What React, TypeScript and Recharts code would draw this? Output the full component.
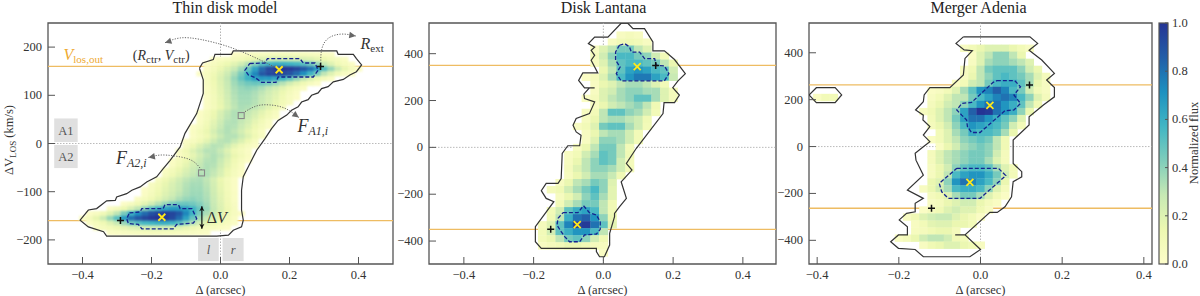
import { Label, ReferenceArea, ReferenceLine, Scatter, ScatterChart, XAxis, YAxis } from "recharts";

const FONT = '"Liberation Serif", serif';
const TEXT = "#333";
const FRAME = "#555";
const ORANGE = "#eebc62";
const DOTS = "#aaa";

const fluxStops: [number, string][] = [
  [0, "#fdfdc9"],
  [0.143, "#edf8b1"],
  [0.286, "#c7e9b4"],
  [0.429, "#7fcdbb"],
  [0.571, "#41b6c4"],
  [0.714, "#1d91c0"],
  [0.857, "#225ea8"],
  [1, "#253494"],
];

const xTicks = [-0.4, -0.2, 0, 0.2, 0.4];
const modelYTicks = [-200, -100, 0, 100, 200];
const wideYTicks = [-400, -200, 0, 200, 400];
const colorbarTicks = [0, 0.2, 0.4, 0.6, 0.8, 1];

// each row: velocity, first column index, then flux in percent
const modelRows = [
  [185, 2, 3, 4, 5, 6, 6, 7, 7, 8, 8, 7, 7, 6, 5, 4, 3],
  [175, -1, 2, 4, 6, 8, 10, 13, 16, 20, 22, 24, 25, 24, 23, 22, 20, 17, 14, 10, 7, 4],
  [165, -2, 3, 6, 10, 14, 19, 25, 32, 42, 52, 58, 60, 60, 58, 56, 52, 46, 38, 28, 20, 12, 7, 3],
  [155, -2, 4, 9, 15, 21, 28, 36, 48, 65, 82, 93, 98, 100, 98, 94, 88, 80, 68, 52, 38, 26, 16, 8, 3],
  [145, -3, 2, 6, 12, 19, 26, 34, 44, 58, 74, 88, 94, 96, 94, 90, 82, 72, 58, 44, 30, 20, 11, 5, 2],
  [135, -2, 6, 13, 21, 29, 38, 48, 58, 66, 68, 68, 64, 58, 50, 40, 30, 22, 14, 8, 3],
  [125, -2, 5, 12, 20, 28, 36, 42, 46, 48, 47, 44, 38, 32, 25, 18, 12, 6, 2],
  [115, -2, 4, 11, 19, 27, 34, 38, 40, 38, 34, 29, 24, 18, 12, 7, 3],
  [105, -2, 4, 10, 18, 26, 33, 37, 37, 34, 30, 25, 20, 14, 8, 3],
  [95, -2, 3, 9, 17, 25, 32, 36, 36, 33, 28, 23, 18, 12, 6, 2],
  [85, -2, 3, 9, 16, 24, 31, 35, 35, 32, 27, 22, 16, 10, 5],
  [75, -2, 3, 8, 15, 23, 30, 34, 33, 30, 25, 19, 13, 6],
  [65, -3, 2, 7, 14, 22, 29, 33, 33, 29, 24, 18, 12, 6],
  [55, -3, 3, 8, 15, 23, 30, 33, 31, 27, 21, 15, 9, 4],
  [45, -3, 4, 10, 18, 26, 32, 33, 29, 24, 17, 10, 4],
  [35, -4, 2, 6, 12, 20, 28, 33, 32, 27, 21, 14, 8, 3],
  [25, -4, 4, 9, 15, 23, 30, 33, 30, 24, 17, 10, 4],
  [15, -4, 3, 7, 12, 20, 28, 32, 32, 27, 20, 12, 5],
  [5, -5, 3, 6, 11, 18, 26, 31, 32, 28, 21, 13, 6],
  [-5, -5, 6, 13, 21, 28, 32, 31, 26, 18, 11, 6, 3],
  [-15, -6, 5, 12, 20, 27, 32, 32, 28, 20, 12, 7, 3],
  [-25, -6, 4, 10, 17, 24, 30, 33, 30, 23, 15, 9, 4],
  [-35, -7, 3, 8, 14, 21, 27, 32, 33, 28, 20, 12, 6, 2],
  [-45, -7, 4, 10, 17, 24, 29, 33, 32, 26, 18, 10, 4],
  [-55, -8, 4, 9, 15, 21, 27, 31, 33, 30, 23, 15, 8, 3],
  [-65, -8, 6, 12, 18, 24, 29, 33, 33, 29, 22, 14, 7, 2],
  [-75, -9, 6, 13, 19, 25, 30, 33, 34, 30, 23, 15, 8, 3],
  [-85, -10, 5, 10, 16, 22, 27, 32, 35, 35, 31, 24, 16, 9, 3],
  [-95, -11, 2, 6, 12, 18, 23, 28, 33, 36, 36, 32, 25, 17, 9, 3],
  [-105, -11, 3, 8, 14, 20, 25, 30, 34, 37, 37, 33, 26, 18, 10, 4],
  [-115, -12, 3, 7, 12, 18, 24, 29, 34, 38, 40, 38, 34, 27, 19, 11, 4],
  [-125, -14, 2, 6, 12, 18, 25, 32, 38, 44, 47, 48, 46, 42, 36, 28, 20, 12, 5],
  [-135, -16, 3, 8, 14, 22, 30, 40, 50, 58, 64, 68, 68, 66, 58, 48, 38, 29, 21, 13, 6],
  [-145, -19, 2, 5, 11, 20, 30, 44, 58, 72, 82, 90, 94, 96, 94, 88, 74, 58, 44, 34, 26, 19, 12, 6, 2],
  [-155, -20, 3, 8, 16, 26, 38, 52, 68, 80, 88, 94, 98, 100, 98, 93, 82, 65, 48, 36, 28, 21, 15, 9, 4],
  [-165, -19, 3, 7, 12, 20, 28, 38, 46, 52, 56, 58, 60, 60, 58, 52, 42, 32, 25, 19, 14, 10, 6, 3],
  [-175, -18, 4, 7, 10, 14, 17, 20, 22, 23, 24, 25, 24, 22, 20, 16, 13, 10, 8, 6, 4, 2],
  [-185, -16, 3, 4, 5, 6, 7, 7, 8, 8, 7, 7, 6, 6, 5, 4, 3],
];

const lantanaRows = [
  [480, 2, 5, 8, 5],
  [450, 1, 5, 10, 12, 10, 5],
  [420, -1, 5, 20, 30, 45, 45, 30, 20],
  [390, -1, 8, 25, 40, 55, 55, 45, 40, 25, 10],
  [360, -1, 6, 20, 35, 50, 55, 55, 50, 45, 30, 15],
  [330, 0, 15, 30, 50, 65, 70, 65, 55, 50, 25],
  [300, -2, 3, 8, 20, 35, 55, 70, 78, 78, 65, 55, 28],
  [270, -1, 5, 15, 20, 30, 35, 35, 30, 20, 10],
  [240, -1, 5, 20, 25, 35, 40, 40, 35, 35, 20, 8],
  [210, -2, 4, 8, 20, 30, 35, 40, 50, 50, 35, 20, 8],
  [180, -1, 5, 15, 25, 30, 35, 40, 30, 12],
  [150, -2, 5, 10, 30, 50, 50, 40, 35, 25, 10],
  [120, -2, 6, 15, 30, 35, 35, 30, 25, 12],
  [90, -3, 5, 10, 20, 45, 50, 50, 35, 25, 10],
  [60, -2, 5, 15, 30, 35, 35, 25, 10],
  [30, -2, 5, 20, 40, 40, 35, 25, 10],
  [0, -3, 5, 15, 30, 45, 45, 30, 10],
  [-30, -4, 5, 10, 25, 35, 50, 45, 30, 12],
  [-60, -4, 6, 15, 30, 40, 50, 45, 25, 8],
  [-90, -4, 8, 20, 30, 40, 40, 35, 25, 10],
  [-120, -4, 6, 15, 25, 35, 35, 28, 12],
  [-150, -5, 5, 15, 30, 35, 45, 40, 20],
  [-180, -6, 8, 12, 25, 35, 45, 55, 40, 18],
  [-210, -5, 6, 15, 25, 40, 50, 35, 18],
  [-240, -5, 10, 25, 35, 45, 45, 30, 12],
  [-270, -6, 10, 25, 50, 60, 65, 55, 30, 12],
  [-300, -6, 12, 30, 60, 80, 85, 70, 40, 15],
  [-330, -7, 8, 20, 50, 75, 95, 98, 80, 50, 18],
  [-360, -7, 10, 25, 50, 60, 70, 70, 55, 30],
  [-390, -7, 10, 15, 30, 45, 50, 40, 25, 12],
  [-420, -7, 5, 8, 10, 15, 15, 12, 8, 6],
  [-450, 0, 4],
];

const adeniaRows = [
  [420, -2, 5, 10, 15, 20, 20, 20, 15, 10, 5],
  [390, -1, 3, 20, 30, 40, 40, 30, 15],
  [360, -1, 5, 20, 35, 40, 40, 35, 30, 20],
  [330, -2, 5, 12, 30, 45, 50, 50, 50, 40, 25, 15],
  [300, -2, 5, 15, 30, 40, 50, 55, 50, 45, 35, 20, 8],
  [270, -3, 4, 10, 25, 30, 45, 55, 60, 60, 50, 35, 15, 5],
  [240, -6, 3, 5, 10, 20, 35, 50, 70, 75, 85, 75, 55, 45, 25, 10, 5],
  [210, -6, 5, 10, 20, 30, 30, 45, 55, 65, 75, 80, 75, 55, 40, 20, 8],
  [210, -20, 4, 10, 10],
  [180, -6, 8, 15, 25, 30, 40, 55, 70, 80, 80, 70, 60, 50, 30, 12],
  [150, -7, 6, 12, 20, 30, 40, 65, 85, 100, 98, 80, 70, 60, 40, 15],
  [120, -6, 10, 20, 30, 45, 65, 80, 80, 70, 60, 50, 40, 20],
  [90, -6, 8, 15, 25, 40, 55, 70, 65, 60, 55, 45, 25, 10],
  [60, -5, 10, 20, 35, 45, 60, 55, 55, 50, 35, 15],
  [30, -6, 4, 10, 20, 30, 40, 45, 50, 45, 30, 12],
  [0, -5, 4, 15, 25, 35, 40, 45, 40, 30, 12],
  [-30, -6, 8, 20, 30, 35, 40, 45, 45, 40, 25, 8],
  [-60, -6, 8, 20, 30, 35, 40, 45, 45, 35, 20, 8],
  [-90, -6, 6, 15, 25, 40, 50, 55, 55, 50, 35, 20, 10],
  [-120, -6, 6, 15, 30, 55, 65, 70, 70, 60, 45, 25, 10],
  [-150, -6, 15, 20, 40, 70, 80, 75, 65, 55, 40, 15],
  [-180, -7, 5, 15, 25, 35, 55, 60, 60, 55, 40, 20, 8],
  [-210, -6, 8, 12, 20, 35, 45, 45, 35, 20, 10, 3],
  [-240, -6, 5, 8, 15, 20, 25, 25, 15, 8, 4],
  [-270, -7, 3, 8, 12, 20, 25, 20, 20, 12, 5],
  [-300, -9, 5, 12, 20, 25, 28, 28, 20, 15, 10, 3],
  [-330, -8, 5, 10, 18, 20, 20, 15, 15, 10],
  [-360, -8, 6, 8, 12, 15, 15, 8],
  [-390, -10, 4, 8, 15, 25, 30, 30, 25, 12, 10],
  [-420, -7, 5, 12, 15, 20, 20, 15, 12, 5],
];

const modelContour = [
  [-0.061, 156], [-0.052, 167], [-0.021, 174], [-0.016, 185], [0.032, 185], [0.037, 192], [0.337, 192],
  [0.341, 185], [0.385, 185], [0.394, 176], [0.409, 163], [0.394, 149], [0.375, 142], [0.356, 133],
  [0.327, 128], [0.312, 118], [0.293, 114], [0.283, 105], [0.264, 100], [0.254, 91], [0.235, 86],
  [0.225, 76], [0.206, 69], [0.192, 59], [0.167, 48], [0.148, 31], [0.129, 10], [0.105, -14], [0.085, -42],
  [0.066, -69], [0.061, -97], [0.061, -138], [0.066, -159], [0.061, -173], [0.037, -180], [0.023, -190],
  [-0.011, -192], [-0.33, -192], [-0.339, -183], [-0.383, -173], [-0.407, -159], [-0.383, -138],
  [-0.359, -135], [-0.33, -119], [-0.305, -118], [-0.301, -111], [-0.272, -104], [-0.257, -97],
  [-0.233, -90], [-0.214, -80], [-0.185, -69], [-0.166, -52], [-0.146, -35], [-0.117, -7], [-0.103, 21],
  [-0.069, 62], [-0.05, 104], [-0.05, 132], [-0.061, 156],
];
const modelCoreUpper = [
  [0.085, 166], [0.129, 167], [0.136, 176], [0.23, 176], [0.24, 167], [0.274, 167], [0.283, 152],
  [0.269, 138], [0.167, 138], [0.161, 127], [0.119, 127], [0.1, 137], [0.081, 142], [0.071, 152], [0.085, 166],
];
const modelCoreLower = [
  [-0.264, -144], [-0.233, -142], [-0.228, -135], [-0.166, -135], [-0.161, -127], [-0.122, -127],
  [-0.117, -135], [-0.083, -135], [-0.069, -156], [-0.079, -165], [-0.127, -168], [-0.137, -177],
  [-0.228, -177], [-0.238, -168], [-0.267, -166], [-0.272, -156], [-0.264, -144],
];

const lantanaContour = [
  [0.051, 530], [0.07, 530], [0.085, 507], [0.118, 507], [0.142, 450], [0.142, 412], [0.175, 412],
  [0.204, 375], [0.235, 315], [0.214, 284], [0.199, 255], [0.218, 223], [0.204, 191], [0.174, 191],
  [0.171, 144], [0.094, -5], [0.066, -69], [0.082, -97], [0.051, -147], [0.066, -218], [0.046, -254],
  [0.032, -282], [0.032, -296], [0.018, -367], [0.018, -417], [0.003, -467], [-0.011, -467], [-0.02, -445],
  [-0.02, -431], [-0.178, -431], [-0.195, -403], [-0.195, -339], [-0.142, -232], [-0.164, -218],
  [-0.178, -185], [-0.164, -154], [-0.13, -154], [-0.121, -133], [-0.118, -26], [-0.102, 7], [-0.068, 7],
  [-0.064, 52], [-0.078, 66], [-0.087, 94], [-0.078, 123], [-0.04, 144], [-0.025, 194], [-0.054, 208],
  [-0.056, 227], [-0.04, 254], [-0.025, 254], [-0.054, 254], [-0.071, 286], [-0.059, 318], [-0.016, 318],
  [-0.035, 372], [-0.025, 393], [-0.035, 414], [-0.025, 428], [-0.043, 443], [-0.025, 471], [0.013, 471],
  [0.051, 530],
];
const lantanaCoreUpper = [
  [0.046, 436], [0.061, 443], [0.075, 429], [0.08, 407], [0.104, 407], [0.118, 379], [0.147, 379],
  [0.152, 350], [0.175, 348], [0.188, 315], [0.175, 284], [0.051, 284], [0.037, 315], [0.048, 343],
  [0.035, 372], [0.035, 407], [0.046, 436],
];
const lantanaCoreLower = [
  [-0.116, -279], [-0.073, -279], [-0.057, -249], [-0.04, -279], [-0.02, -289], [-0.009, -317],
  [-0.009, -350], [-0.02, -370], [-0.054, -374], [-0.068, -403], [-0.097, -403], [-0.111, -381],
  [-0.121, -360], [-0.133, -332], [-0.13, -303], [-0.116, -279],
];

const adeniaContour = [
  [-0.042, 468], [0.121, 468], [0.14, 440], [0.119, 411], [0.15, 369], [0.181, 312], [0.162, 284],
  [0.181, 252], [0.181, 212], [0.154, 177], [0.119, 127], [0.119, 92], [0.08, 28], [0.08, -72],
  [0.101, -107], [0.101, -129], [0.08, -150], [0.076, -214], [0.06, -257], [0.041, -281], [0.023, -281],
  [-0.038, -377], [-0.062, -377], [-0.038, -377], [0, -439], [-0.026, -470], [-0.14, -470], [-0.16, -439],
  [-0.201, -434], [-0.22, -406], [-0.201, -377], [-0.179, -377], [-0.179, -342], [-0.199, -313],
  [-0.181, -285], [-0.16, -278], [-0.16, -242], [-0.14, -221], [-0.179, -186], [-0.14, -122], [-0.158, -58],
  [-0.16, -29], [-0.14, -1], [-0.124, 21], [-0.14, 49], [-0.124, 85], [-0.141, 113], [-0.14, 134],
  [-0.159, 156], [-0.14, 191], [-0.138, 220], [-0.124, 251], [-0.075, 251], [-0.042, 305], [-0.038, 376],
  [-0.02, 409], [-0.04, 412], [-0.06, 440], [-0.042, 468],
];
const adeniaIsland = [
  [-0.42, 220], [-0.402, 251], [-0.356, 251], [-0.34, 220], [-0.356, 187], [-0.402, 187], [-0.42, 220],
];
const adeniaCoreUpper = [
  [0.04, 281], [0.084, 281], [0.098, 255], [0.082, 220], [0.098, 184], [0.082, 156], [0.06, 153],
  [-0.001, 60], [-0.022, 60], [-0.032, 85], [-0.034, 113], [-0.046, 134], [-0.058, 156], [-0.046, 184],
  [-0.022, 188], [0.031, 274], [0.04, 281],
];
const adeniaCoreLower = [
  [-0.058, -93], [0.044, -93], [0.062, -124], [-0.001, -221], [-0.079, -221], [-0.095, -193],
  [-0.101, -157], [-0.058, -93],
];

// Dotted call-out curves in the model panel
const arrowCtr = [[0.17, 154], [0.095, 180], [0.018, 202], [-0.059, 216], [-0.117, 219], [-0.161, 209]];
const arrowExt = [[0.291, 161], [0.293, 194], [0.312, 218], [0.351, 227], [0.392, 223]];
const arrowA1 = [[0.071, 66], [0.105, 78], [0.143, 80], [0.187, 73], [0.227, 54]];
const arrowA2 = [[-0.055, -55], [-0.084, -35], [-0.132, -26], [-0.175, -24], [-0.209, -29]];
const arrowTips = [
  { x: -0.161, y: 209, rot: 162 },
  { x: 0.392, y: 223, rot: 9 },
  { x: 0.227, y: 54, rot: 36 },
  { x: -0.209, y: -29, rot: 169 },
];
const deltaV = [[-0.054, -130], [-0.054, -177]];
const deltaVTips = [
  { x: -0.054, y: -130, rot: -90 },
  { x: -0.054, y: -177, rot: 90 },
];
const modelSquares = [{ x: 0.06, y: 58 }, { x: -0.055, y: -61 }];

const hexToRgb = (hex: string) => [1, 3, 5].map((i) => parseInt(hex.slice(i, i + 2), 16));

function fluxColor(f: number) {
  for (let i = 1; i < fluxStops.length; i++) {
    if (f <= fluxStops[i][0]) {
      const [f0, c0] = fluxStops[i - 1];
      const [f1, c1] = fluxStops[i];
      const t = (f - f0) / (f1 - f0);
      const a = hexToRgb(c0);
      const b = hexToRgb(c1);
      return `rgb(${a.map((v, j) => Math.round(v + (b[j] - v) * t)).join(",")})`;
    }
  }
  return fluxStops[fluxStops.length - 1][1];
}

function toCells(rows: number[][], dx: number) {
  return rows.flatMap(([y, start, ...values]) =>
    values.map((v, i) => ({ x: (start + i) * dx, y, fill: fluxColor(v / 100) })),
  );
}

const toPoints = (pts: number[][]) => pts.map(([x, y]) => ({ x, y }));
const minus = (s: string) => s.replace("-", "\u2212");

const XTick = ({ x, y, payload }: any) => (
  <g>
    <line x1={x} y1={y} x2={x} y2={y - 7} stroke={FRAME} strokeWidth={1} />
    <text x={x} y={y + 15} textAnchor="middle" fontFamily={FONT} fontSize={12.5} fill={TEXT}>
      {minus(payload.value.toFixed(1))}
    </text>
  </g>
);

const YTick = ({ x, y, payload }: any) => (
  <g>
    <line x1={x} y1={y} x2={x + 7} y2={y} stroke={FRAME} strokeWidth={1} />
    <text x={x - 6} y={y + 4} textAnchor="end" fontFamily={FONT} fontSize={12.5} fill={TEXT}>
      {minus(String(payload.value))}
    </text>
  </g>
);

const ColorbarTick = ({ x, y, payload }: any) => (
  <g>
    <line x1={x} y1={y} x2={x - 3} y2={y} stroke={FRAME} strokeWidth={1} />
    <text x={x + 4} y={y + 4} fontFamily={FONT} fontSize={12.5} fill={TEXT}>
      {payload.value.toFixed(1)}
    </text>
  </g>
);

const YellowCross = ({ cx, cy }: any) => (
  <path d={`M${cx - 3.5} ${cy - 3.5}L${cx + 3.5} ${cy + 3.5}M${cx - 3.5} ${cy + 3.5}L${cx + 3.5} ${cy - 3.5}`} stroke="#ffe81a" strokeWidth={1.8} />
);
const BlackPlus = ({ cx, cy }: any) => (
  <path d={`M${cx - 3.5} ${cy}H${cx + 3.5}M${cx} ${cy - 3.5}V${cy + 3.5}`} stroke="#111" strokeWidth={1.5} />
);
const OpenSquare = ({ cx, cy }: any) => (
  <rect x={cx - 3} y={cy - 3} width={6} height={6} fill="none" stroke="#888" strokeWidth={1.1} />
);
const GrayTip = ({ cx, cy, payload }: any) => (
  <path d="M0 0L-6.5 -3.2L-6.5 3.2Z" fill="#666" transform={`translate(${cx},${cy}) rotate(${payload.rot})`} />
);
const BlackTip = ({ cx, cy, payload }: any) => (
  <path d="M0 0L-5 -2.6L-3.6 0L-5 2.6Z" fill="#111" transform={`translate(${cx},${cy}) rotate(${payload.rot})`} />
);
const noDot = () => null;

function contour(pts: number[][], key: string) {
  return (
    <Scatter key={key} data={toPoints(pts)} line={{ stroke: "#333", strokeWidth: 1.2 }} shape={noDot} isAnimationActive={false} />
  );
}
function dashedCore(pts: number[][], key: string) {
  return (
    <Scatter key={key} data={toPoints(pts)} line={{ stroke: "#14238f", strokeWidth: 1.3, strokeDasharray: "4 2" }} shape={noDot} isAnimationActive={false} />
  );
}
function callout(pts: number[][], key: string) {
  return (
    <Scatter key={key} data={toPoints(pts)} line={{ stroke: "#666", strokeWidth: 1, strokeDasharray: "1.2 1.4" }} lineJointType="natural" shape={noDot} isAnimationActive={false} />
  );
}
function markers(data: { x: number; y: number }[], shape: any, key: string) {
  return <Scatter key={key} data={data} shape={shape} isAnimationActive={false} />;
}
function textAt(x: number, y: number, node: any, key: string) {
  return (
    <Scatter
      key={key}
      data={[{ x, y }]}
      isAnimationActive={false}
      shape={({ cx, cy }: any) => (
        <text x={cx} y={cy} fontFamily={FONT} fill={TEXT}>
          {node}
        </text>
      )}
    />
  );
}

function Panel({ left, width, axisWidth, rightGap, xDomain, yDomain, yTicks, cells, cellW, cellH, blur, vOut, crosses, pluses, children, under, yLabel }: any) {
  return (
    <div style={{ position: "absolute", left, top: 0 }}>
      <ScatterChart width={width} height={296} margin={{ top: 23, right: rightGap, bottom: 0, left: 0 }}>
        <XAxis
          type="number"
          dataKey="x"
          domain={xDomain}
          ticks={xTicks}
          interval={0}
          allowDataOverflow
          height={32}
          axisLine={false}
          tickLine={false}
          tickSize={0}
          tickMargin={0}
          tick={<XTick />}
          label={{ value: "\u0394 (arcsec)", position: "insideBottom", offset: 2, fontFamily: FONT, fontSize: 12.5, fill: TEXT }}
        />
        <YAxis
          type="number"
          dataKey="y"
          domain={yDomain}
          ticks={yTicks}
          interval={0}
          allowDataOverflow
          width={axisWidth}
          axisLine={false}
          tickLine={false}
          tickSize={0}
          tickMargin={0}
          tick={<YTick />}
        >
          {yLabel}
        </YAxis>
        {under}
        <Scatter
          data={cells}
          className={blur}
          isAnimationActive={false}
          shape={({ cx, cy, payload }: any) => (
            <rect x={cx - cellW / 2} y={cy - cellH / 2} width={cellW + 0.4} height={cellH + 0.4} fill={payload.fill} />
          )}
        />
        <ReferenceLine y={0} stroke={DOTS} strokeWidth={0.8} strokeDasharray="1.5 1.5" />
        <ReferenceLine x={0} stroke={DOTS} strokeWidth={0.9} strokeDasharray="1.5 1.5" />
        <ReferenceLine y={vOut} stroke={ORANGE} strokeWidth={1.4} />
        <ReferenceLine y={-vOut} stroke={ORANGE} strokeWidth={1.4} />
        {children}
        {markers(crosses, YellowCross, "crosses")}
        {markers(pluses, BlackPlus, "pluses")}
        <ReferenceArea x1={xDomain[0]} x2={xDomain[1]} y1={yDomain[0]} y2={yDomain[1]} fill="none" stroke={FRAME} strokeWidth={1.3} />
      </ScatterChart>
    </div>
  );
}

function Title({ center, children }: any) {
  return (
    <div style={{ position: "absolute", left: center - 120, width: 240, top: -2, textAlign: "center", fontFamily: FONT, fontSize: 16, lineHeight: "20px", color: "#222" }}>
      {children}
    </div>
  );
}

const sub = (text: string, size = 11) => (
  <tspan dy={3} fontSize={size}>
    {text}
  </tspan>
);

const grayBoxes = [
  { key: "A1", x1: -0.482, x2: -0.414, y1: 3, y2: 52 },
  { key: "A2", x1: -0.482, x2: -0.414, y1: -51, y2: -3 },
  { key: "l", x1: -0.065, x2: -0.005, y1: -244, y2: -196 },
  { key: "r", x1: 0.006, x2: 0.067, y1: -244, y2: -196 },
];

export default function App() {
  return (
    <div style={{ position: "absolute", left: 0, top: 0, width: 1200, height: 296, background: "#fff", overflow: "hidden" }}>
      <style>{`.heat-smooth { filter: blur(1.1px); } .heat-soft { filter: blur(0.4px); }`}</style>
      <Title center={225}>Thin disk model</Title>
      <Title center={603.5}>Disk Lantana</Title>
      <Title center={978.5}>Merger Adenia</Title>

      <Panel
        left={0}
        width={400}
        axisWidth={48}
        rightGap={7}
        xDomain={[-0.5, 0.5]}
        yDomain={[-250, 250]}
        yTicks={modelYTicks}
        cells={toCells(modelRows, 0.02)}
        cellW={6.9}
        cellH={4.8}
        blur="heat-smooth"
        vOut={160}
        crosses={[{ x: 0.17, y: 153 }, { x: -0.17, y: -153 }]}
        pluses={[{ x: 0.29, y: 160 }, { x: -0.29, y: -160 }]}
        yLabel={
          <Label
            content={() => (
              <text transform="translate(13,140) rotate(-90)" textAnchor="middle" fontFamily={FONT} fontSize={12.5} fill={TEXT}>
                {"\u0394V"}
                {sub("LOS", 9)}
                <tspan dy={-3}> (km/s)</tspan>
              </text>
            )}
          />
        }
        under={grayBoxes.map((b) => (
          <ReferenceArea
            key={b.key}
            x1={b.x1}
            x2={b.x2}
            y1={b.y1}
            y2={b.y2}
            fill="#e0e0e0"
            fillOpacity={1}
            label={{ value: b.key, position: "center", fontFamily: FONT, fontSize: 12.5, fill: "#555", fontStyle: b.key.length === 1 ? "italic" : "normal" }}
          />
        ))}
      >
        {contour(modelContour, "outline")}
        {dashedCore(modelCoreUpper, "coreUp")}
        {dashedCore(modelCoreLower, "coreLow")}
        {callout(arrowCtr, "a1")}
        {callout(arrowExt, "a2")}
        {callout(arrowA1, "a3")}
        {callout(arrowA2, "a4")}
        {markers(arrowTips, GrayTip, "tips")}
        <Scatter data={toPoints(deltaV)} line={{ stroke: "#111", strokeWidth: 1.2 }} shape={noDot} isAnimationActive={false} />
        {markers(deltaVTips, BlackTip, "dvTips")}
        {markers(modelSquares, OpenSquare, "squares")}
        {textAt(-0.455, 173, <tspan fontSize={16} fill="#eeaa33"><tspan fontStyle="italic">V</tspan><tspan dy={3} fontSize={11}>los,out</tspan></tspan>, "vout")}
        {textAt(-0.254, 174, <tspan fontSize={14}>(<tspan fontStyle="italic">R</tspan>{sub("ctr")}<tspan dy={-3}>, </tspan><tspan fontStyle="italic">V</tspan>{sub("ctr")}<tspan dy={-3}>)</tspan></tspan>, "ctr")}
        {textAt(0.406, 197, <tspan fontSize={16}><tspan fontStyle="italic">R</tspan>{sub("ext")}</tspan>, "ext")}
        {textAt(0.223, 23, <tspan fontSize={18} fontStyle="italic">F<tspan dy={3} fontSize={12}>A1,i</tspan></tspan>, "fa1")}
        {textAt(-0.303, -42, <tspan fontSize={18} fontStyle="italic">F<tspan dy={3} fontSize={12}>A2,i</tspan></tspan>, "fa2")}
        {textAt(-0.04, -165, <tspan fontSize={16}>{"\u0394"}<tspan fontStyle="italic">V</tspan></tspan>, "dv")}
      </Panel>

      <Panel
        left={395}
        width={385}
        axisWidth={34}
        rightGap={4}
        xDomain={[-0.5, 0.495]}
        yDomain={[-498, 531]}
        yTicks={wideYTicks}
        cells={toCells(lantanaRows, 0.025)}
        cellW={8.7}
        cellH={7}
        blur="heat-soft"
        vOut={350}
        crosses={[{ x: 0.097, y: 345 }, { x: -0.075, y: -330 }]}
        pluses={[{ x: 0.15, y: 350 }, { x: -0.151, y: -350 }]}
      >
        {contour(lantanaContour, "outline")}
        {dashedCore(lantanaCoreUpper, "coreUp")}
        {dashedCore(lantanaCoreLower, "coreLow")}
      </Panel>

      <Panel
        left={770}
        width={386}
        axisWidth={39}
        rightGap={4}
        xDomain={[-0.42, 0.42]}
        yDomain={[-501, 527]}
        yTicks={wideYTicks}
        cells={toCells(adeniaRows, 0.02)}
        cellW={8.2}
        cellH={7}
        blur="heat-soft"
        vOut={263}
        crosses={[{ x: 0.023, y: 176 }, { x: -0.026, y: -153 }]}
        pluses={[{ x: 0.12, y: 263 }, { x: -0.12, y: -263 }]}
      >
        {contour(adeniaContour, "outline")}
        {contour(adeniaIsland, "island")}
        {dashedCore(adeniaCoreUpper, "coreUp")}
        {dashedCore(adeniaCoreLower, "coreLow")}
      </Panel>

      <div style={{ position: "absolute", left: 1150, top: 0 }}>
        <ScatterChart width={50} height={296} margin={{ top: 23, right: 0, bottom: 0, left: 9 }}>
          <defs>
            <linearGradient id="fluxBar" x1="0" y1="1" x2="0" y2="0">
              {fluxStops.map(([f, c]) => (
                <stop key={f} offset={f} stopColor={c} />
              ))}
            </linearGradient>
          </defs>
          <XAxis type="number" dataKey="x" domain={[0, 1]} allowDataOverflow height={32} axisLine={false} tickLine={false} tick={false} />
          <YAxis
            type="number"
            dataKey="y"
            orientation="right"
            domain={[0, 1]}
            ticks={colorbarTicks}
            interval={0}
            allowDataOverflow
            width={32}
            axisLine={false}
            tickLine={false}
            tickSize={0}
            tickMargin={0}
            tick={<ColorbarTick />}
          >
            <Label
              content={() => (
                <text transform="translate(47.5,143) rotate(-90)" textAnchor="middle" fontFamily={FONT} fontSize={12.5} fill={TEXT}>
                  Normalized flux
                </text>
              )}
            />
          </YAxis>
          <Scatter data={colorbarTicks.map((y) => ({ x: 0.5, y }))} shape={noDot} isAnimationActive={false} />
          <ReferenceArea
            y1={0}
            y2={1}
            shape={({ y, height }: any) => (
              <rect x={9} y={y} width={9} height={height} fill="url(#fluxBar)" stroke={FRAME} strokeWidth={1.2} />
            )}
          />
        </ScatterChart>
      </div>
    </div>
  );
}
